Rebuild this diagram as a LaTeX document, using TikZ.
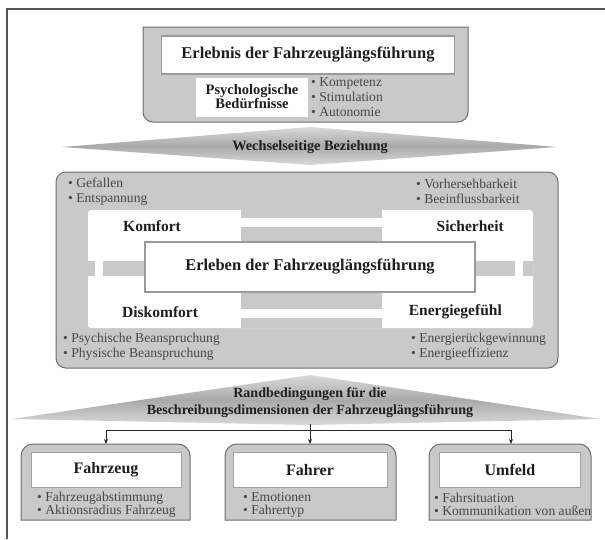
\documentclass[tikz,border=0pt]{standalone}
\usepackage{fontspec}
\setmainfont{Liberation Serif}
\usetikzlibrary{arrows.meta}

\definecolor{boxgray}{HTML}{C9C9C9}
\definecolor{edgegray}{HTML}{6E6E6E}
\definecolor{softgray}{HTML}{9A9A9A}
\definecolor{bulgray}{HTML}{474747}
\definecolor{lblblack}{HTML}{1E1E1E}
\definecolor{framegray}{HTML}{555555}
\definecolor{arrowlight}{HTML}{D9D9D9}
\definecolor{arrowmid}{HTML}{A9A9A9}

\tikzset{
  graybox/.style={fill=boxgray, draw=edgegray, line width=1pt},
  whitebox/.style={fill=white, draw=softgray, line width=1.6pt},
  innerbox/.style={fill=white, draw=boxgray!80!black, line width=0.8pt, minimum height=35pt},
  barfill/.style={fill=boxgray, draw=none},
  bigarrow/.style={top color=arrowlight, bottom color=arrowlight, middle color=arrowmid, draw=none},
  lbl/.style={font=\bfseries\fontsize{15.5}{17}\selectfont, text=lblblack, inner sep=0pt},
  titlelbl/.style={font=\bfseries\fontsize{16.5}{18}\selectfont, text=lblblack, inner sep=0pt},
  boxlbl/.style={font=\bfseries\fontsize{16}{18}\selectfont, text=lblblack, inner sep=0pt},
  sublbl/.style={font=\bfseries\fontsize{14.5}{16}\selectfont, text=lblblack, inner sep=0pt, align=center},
  bul/.style={font=\fontsize{13.6}{15}\selectfont, text=bulgray, inner sep=0pt, anchor=west, align=left},
  bulnarrow/.style={bul, font=\fontsize{13.6}{13}\selectfont},
  link/.style={draw=black!85, line width=1pt},
  tip/.style={-{Stealth[length=5pt,width=4pt]}},
}

\begin{document}
\begin{tikzpicture}[x=1pt, y=-1pt]
\useasboundingbox (0,0) rectangle (605,539);

% page frame (top and left edges)
\draw[framegray, line width=1.5pt] (7,539) -- (7,9) -- (605,9);

% ---------- experience block ----------
\path[graybox] (143,27) -- (468,27) [rounded corners=10] -- (468,122) -- (143,122) [sharp corners] -- cycle;
\node[whitebox, minimum width=293pt, minimum height=38pt] (erlbox) at (308,55) {};
\node[titlelbl] (erlebnis) at (308,55) {Erlebnis der Fahrzeuglängsführung};
\node[fill=white, minimum width=112pt, minimum height=39pt] (psybox) at (252,97) {};
\node[sublbl] (psy) at (252,97) {Psychologische\\[-2pt]Bedürfnisse};
\node[bul] (needs) at (311,97) {\textbullet\ Kompetenz\\\textbullet\ Stimulation\\\textbullet\ Autonomie};

% ---------- mutual relation arrow ----------
\path[bigarrow] (62,147) -- (310,127) -- (557,147) -- (310,165) -- cycle;
\node[lbl, font=\bfseries\fontsize{14.3}{16}\selectfont] (wech) at (310,147) {Wechselseitige Beziehung};

% ---------- experience dimensions block ----------
\path[graybox, rounded corners=10] (56,172) rectangle (558,368);
\path[fill=white, rounded corners=3] (88,210) rectangle (533,328);
% connecting bars and notches
\path[barfill] (241,210) rectangle (382,218);
\path[barfill] (241,227) rectangle (382,241);
\path[barfill] (241,292) rectangle (382,309);
\path[barfill] (241,318) rectangle (382,328);
\path[barfill] (88,261) rectangle (95,276);
\path[barfill] (103,261) rectangle (145,276);
\path[barfill] (476,261) rectangle (515,276);
\path[barfill] (523,261) rectangle (533,276);
\node[whitebox, minimum width=330pt, minimum height=50pt] (centerbox) at (310,267) {};
\node[titlelbl] (erleben) at (310,267) {Erleben der Fahrzeuglängsführung};

\node[lbl, anchor=west] (komfort) at (123,226) {Komfort};
\node[lbl, anchor=east] (sicher) at (504,226) {Sicherheit};
\node[lbl, anchor=west] (diskomfort) at (122,312) {Diskomfort};
\node[lbl, anchor=east] (energie) at (502,312) {Energiegefühl};

\node[bul] (komfortitems) at (68,191.5) {\textbullet\ Gefallen\\\textbullet\ Entspannung};
\node[bul] (sicheritems) at (416,191.5) {\textbullet\ Vorhersehbarkeit\\\textbullet\ Beeinflussbarkeit};
\node[bul] (diskomfortitems) at (63,346.5) {\textbullet\ Psychische Beanspruchung\\\textbullet\ Physische Beanspruchung};
\node[bul] (energieitems) at (411,346.5) {\textbullet\ Energierückgewinnung\\\textbullet\ Energieeffizienz};

% ---------- boundary conditions roof ----------
\path[bigarrow] (12,419) -- (310,375) -- (600,419) -- (310,425) -- cycle;
\node[lbl, font=\bfseries\fontsize{14}{17}\selectfont, align=center] (rand) at (310,403)
  {Randbedingungen für die\\Beschreibungsdimensionen der Fahrzeuglängsführung};

\coordinate (roofbase) at (310,424);
\coordinate (split) at (310,430);
\coordinate (fzturn) at (106,430);
\coordinate (umturn) at (511,430);
\coordinate (fztop) at (106,444);
\coordinate (frtop) at (310,444);
\coordinate (umtop) at (511,444);
\draw[link] (roofbase) -- (split);
\draw[link] (split) -- (fzturn);
\draw[link] (split) -- (umturn);
\draw[link, tip] (fzturn) -- (fztop);
\draw[link, tip] (split) -- (frtop);
\draw[link, tip] (umturn) -- (umtop);

% ---------- three condition boxes ----------
\path[graybox] (21,520) [rounded corners=12] -- (21,444) -- (190,444) [sharp corners] -- (190,520) -- cycle;
\path[graybox] (225,520) [rounded corners=12] -- (225,444) -- (396,444) [sharp corners] -- (396,520) -- cycle;
\path[graybox] (429,520) [rounded corners=12] -- (429,444) -- (591,444) [sharp corners] -- (591,520) -- cycle;

\node[innerbox, minimum width=150pt] (fzbox) at (106,470) {};
\node[innerbox, minimum width=154pt] (frbox) at (310,470) {};
\node[innerbox, minimum width=141pt] (umbox) at (510,470) {};
\node[boxlbl] (fahrzeug) at (106,470) {Fahrzeug};
\node[boxlbl] (fahrer) at (310,470) {Fahrer};
\node[boxlbl] (umfeld) at (510,470) {Umfeld};

\node[bulnarrow] (fzitems) at (37,504.5) {\textbullet\ Fahrzeugabstimmung\\\textbullet\ Aktionsradius Fahrzeug};
\node[bulnarrow] (fritems) at (243,504.5) {\textbullet\ Emotionen\\\textbullet\ Fahrertyp};
\node[bulnarrow] (umitems) at (434,504.5) {\textbullet\ Fahrsituation\\\textbullet\ Kommunikation von außen};

\end{tikzpicture}
\end{document}
